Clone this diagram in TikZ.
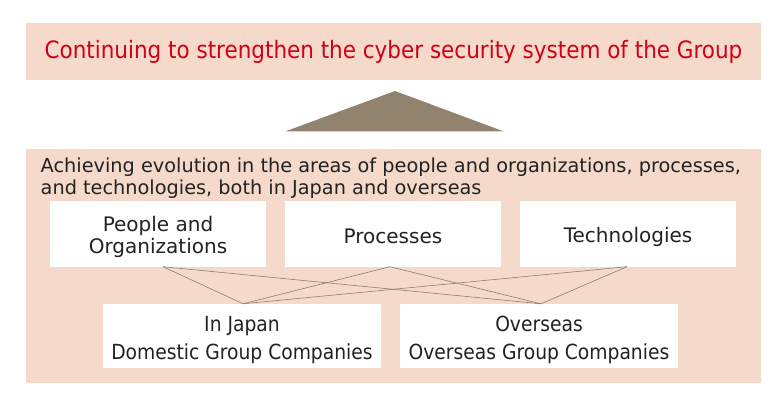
\documentclass[tikz,border=0pt]{standalone}
\usepackage{fontspec}
\setmainfont{DejaVu Sans}
\newfontfamily\condfont{DejaVu Sans Condensed}
\definecolor{bandpink}{RGB}{245,218,204}
\definecolor{headred}{RGB}{208,0,22}
\definecolor{triabrown}{RGB}{145,131,110}
\definecolor{linebrown}{RGB}{140,126,108}
\definecolor{textdark}{RGB}{34,34,34}
\tikzset{
  band/.style={fill=bandpink, draw=none, inner sep=0pt},
  whitebox/.style={fill=white, draw=none, inner sep=0pt},
  boxtext/.style={align=center, text=textdark, inner sep=0pt},
  link/.style={draw=linebrown, line width=0.6pt},
}
\begin{document}
\begin{tikzpicture}[x=1pt,y=-1pt]
\useasboundingbox (0,0) rectangle (780,409);
% top banner
\node[band, minimum width=735, minimum height=57] (banner) at (393.5,51.5) {};
\node[text=headred, inner sep=0pt, font=\condfont\fontsize{23.9}{28}\selectfont] (headline) at (banner.center) {Continuing to strengthen the cyber security system of the Group};
% triangle
\fill[triabrown] (285,131.5) -- (395,91) -- (504,131.5) -- cycle;
% lower band
\node[band, minimum width=735, minimum height=234] (lower) at (393.5,266) {};
\node[anchor=base west, align=left, text=textdark, inner sep=0pt, font=\fontsize{19.3}{21.5}\selectfont] (intro) at (40.5,194.5) {Achieving evolution in the areas of people and organizations, processes,\\and technologies, both in Japan and overseas};
% top row
\node[whitebox, minimum width=216, minimum height=65] (people) at (158,234) {};
\node[whitebox, minimum width=216, minimum height=65] (processes) at (393,234) {};
\node[whitebox, minimum width=216, minimum height=65] (tech) at (628,234) {};
\node[boxtext, font=\fontsize{20}{22}\selectfont] (peopletext) at ([yshift=-2.5pt]people.center) {People and\\Organizations};
\node[boxtext, font=\fontsize{20}{22}\selectfont] (processestext) at ([yshift=-2pt]processes.center) {Processes};
\node[boxtext, font=\fontsize{20}{22}\selectfont] (techtext) at ([yshift=-2.5pt]tech.center) {Technologies};
% bottom row
\node[whitebox, minimum width=278, minimum height=64] (japan) at (242,336) {};
\node[whitebox, minimum width=278, minimum height=64] (overseas) at (539,336) {};
\node[boxtext, font=\condfont\fontsize{20.8}{28}\selectfont] (japantext) at ([yshift=-4pt]japan.center) {In Japan\\Domestic Group Companies};
\node[boxtext, font=\condfont\fontsize{20.8}{28}\selectfont] (overseastext) at ([yshift=-4pt]overseas.center) {Overseas\\Overseas Group Companies};
% links
\coordinate (pp) at ([xshift=5pt]people.south);
\coordinate (pr) at ([xshift=-3pt]processes.south);
\coordinate (pt) at ([xshift=-1pt]tech.south);
\coordinate (jp) at ([xshift=1pt]japan.north);
\coordinate (os) at ([xshift=2pt]overseas.north);
\draw[link] (pp) -- (jp);
\draw[link] (pp) -- (os);
\draw[link] (pr) -- (jp);
\draw[link] (pr) -- (os);
\draw[link] (pt) -- (jp);
\draw[link] (pt) -- (os);
\end{tikzpicture}
\end{document}
